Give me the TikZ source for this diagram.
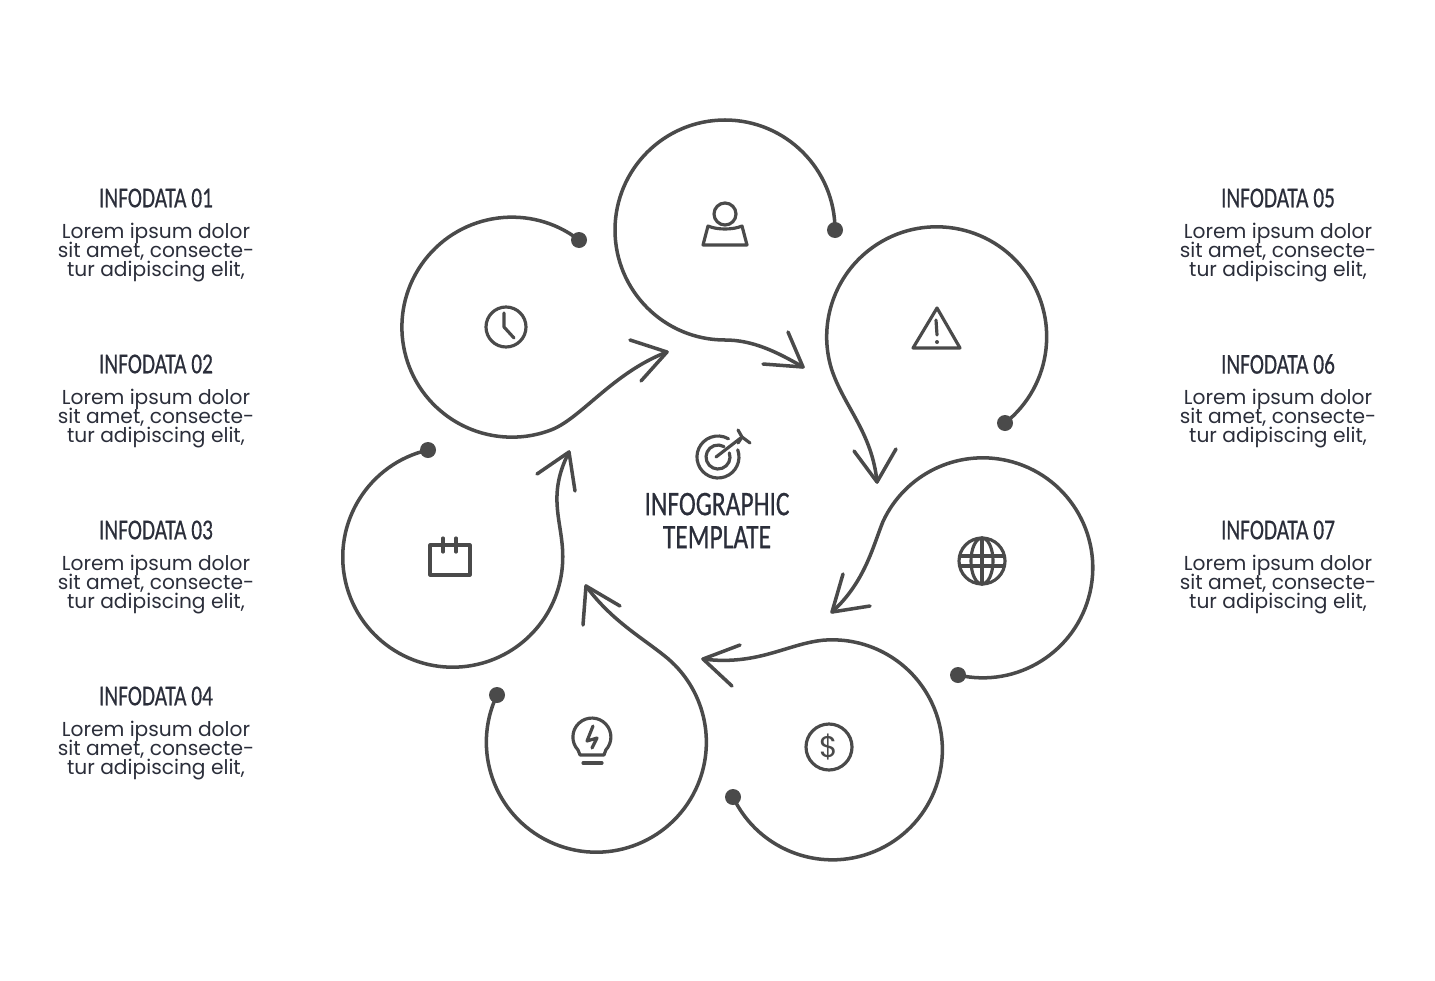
\documentclass[tikz,border=0pt]{standalone}
\usepackage{fontspec}
\newfontfamily\headfont[FakeStretch=0.74,FakeBold=0.5]{Carlito}
\newfontfamily\bodyfont{Poppins}
\definecolor{inkgray}{HTML}{4A4A4A}
\definecolor{textnavy}{HTML}{2B2E3A}
\normallineskiplimit=-100pt
\lineskiplimit=-100pt
\tikzset{
  petal/.style={draw=inkgray,line width=2pt,line cap=round,line join=round},
  glyph/.style={draw=inkgray,line width=1.8pt,line cap=round,line join=round},
  enddot/.style={fill=inkgray},
  headtext/.style={text=textnavy,font=\headfont\fontsize{16.4}{17}\selectfont,align=center,inner sep=0pt},
  titletext/.style={text=textnavy,font=\headfont\fontsize{19.6}{18.8}\selectfont,align=center,inner sep=0pt},
  bodytext/.style={text=textnavy,font=\bodyfont\fontsize{11.5}{10.8}\selectfont,align=center,inner sep=0pt},
}

\begin{document}
\begin{tikzpicture}[x=0.02cm,y=-0.02cm]
  \useasboundingbox (0,0) rectangle (1435,980);
  % petals
  \begin{scope}[shift={(725,230)}]
   \draw[petal] (110,0) arc(0:-270:110) .. controls (28,110) and (52,122) .. (78,137);
   \draw[petal] (63,102) -- (78,137) -- (38,134);
   \fill[enddot] (110,0) circle (8);
   \draw[glyph] (0,-16) circle (11);
   \draw[glyph] (-17,-4) .. controls (-8,0) and (8,0) .. (17,-4) -- (22,15) -- (-22,15) -- cycle;
  \end{scope}
  \begin{scope}[shift={(937,337)}]
   \draw[petal] (68,86) arc(51.6:-197:110) .. controls (-93,70) and (-65,95) .. (-60,145);
   \draw[petal] (-83,114) -- (-60,145) -- (-41,112);
   \fill[enddot] (68,86) circle (8);
   \draw[glyph] (0,-29) -- (-24,11) -- (23,11) -- cycle;
   \draw[glyph] (-1,-17) -- (0,-2);
   \fill[enddot] (0,5) circle (2);
  \end{scope}
  \begin{scope}[shift={(983,568)}]
   \draw[petal] (-25,107) arc(103:-155:110) .. controls (-110,-22) and (-118,14) .. (-151,44);
   \draw[petal] (-140,6) -- (-151,44) -- (-113,38);
   \fill[enddot] (-25,107) circle (8);
   \draw[glyph] (-1,-7) circle (23);
   \draw[glyph] (-1,-7) ellipse (11 and 23);
   \draw[glyph] (-1,-30) -- (-1,16);
   \draw[glyph] (-22,-12) -- (20,-12);
   \draw[glyph] (-22,-2) -- (20,-2);
  \end{scope}
  \begin{scope}[shift={(832,750)}]
   \draw[petal] (-99,47) arc(154.6:-95:110) .. controls (-45,-106) and (-75,-84) .. (-129,-91);
   \draw[petal] (-92,-105) -- (-129,-91) -- (-100,-64);
   \fill[enddot] (-99,47) circle (8);
   \draw[glyph] (-3,-3) circle (23);
   \node (dollarsign) at (-3,-3) [text=inkgray,font=\bodyfont\fontsize{17}{17}\selectfont,inner sep=0pt] {\$};
  \end{scope}
  \begin{scope}[shift={(596,742)}]
   \draw[petal] (-99,-47) arc(205.4:-52:110) .. controls (45,-105) and (15,-122) .. (-10,-156);
   \draw[petal] (24,-136) -- (-10,-156) -- (-13,-117);
   \fill[enddot] (-99,-47) circle (8);
   \draw[glyph] (-18,8) arc(137:403:19) -- (8,13) -- (-16,13) -- cycle;
   \draw[glyph] (-13,21) -- (6,21);
   \draw[glyph] (-3,-16) -- (-9,-1) -- (1,-4) -- (-4,6);
  \end{scope}
  \begin{scope}[shift={(453,557)}]
   \draw[petal] (-25,-107) arc(257:0:110) .. controls (110,-35) and (93,-60) .. (116,-105);
   \draw[petal] (84,-83) -- (116,-105) -- (122,-66);
   \fill[enddot] (-25,-107) circle (8);
   \draw[glyph] (-23,-12) rectangle (17,18);
   \draw[glyph] (-10,-19) -- (-10,-5);
   \draw[glyph] (3,-19) -- (3,-5);
  \end{scope}
  \begin{scope}[shift={(512,327)}]
   \draw[petal] (67,-87) arc(-52.4:-290:110) .. controls (68,93) and (100,46) .. (155,25);
   \draw[petal] (118,13) -- (155,25) -- (129,54);
   \fill[enddot] (67,-87) circle (8);
   \draw[glyph] (-6,0) circle (20);
   \draw[glyph] (-8,-14) -- (-8,0) -- (2,11);
  \end{scope}
  % middle
  \begin{scope}[shift={(718,457)}]
   \draw[glyph] (19.7,-7.2) arc(-20:300:21);
   \draw[glyph] (11.3,-4.1) arc(-20:300:12);
   \draw[glyph] (-2,0) -- (24,-20);
   \draw[glyph] (20,-27) -- (24,-20) -- (32,-14);
   \draw[glyph] (24,-20) -- (20,-14);
  \end{scope}
  \node (title) at (717,520.5) [titletext] {INFOGRAPHIC\\TEMPLATE};
  % left column
  \node (head1) at (156,198) [headtext] {INFODATA 01};
  \node (text1) at (156,253) [bodytext] {Lorem ipsum dolor\\sit amet, consecte-\\tur adipiscing elit,};
  \node (head2) at (156,364) [headtext] {INFODATA 02};
  \node (text2) at (156,419) [bodytext] {Lorem ipsum dolor\\sit amet, consecte-\\tur adipiscing elit,};
  \node (head3) at (156,530) [headtext] {INFODATA 03};
  \node (text3) at (156,585) [bodytext] {Lorem ipsum dolor\\sit amet, consecte-\\tur adipiscing elit,};
  \node (head4) at (156,696) [headtext] {INFODATA 04};
  \node (text4) at (156,751) [bodytext] {Lorem ipsum dolor\\sit amet, consecte-\\tur adipiscing elit,};
  % right column
  \node (head5) at (1278,198) [headtext] {INFODATA 05};
  \node (text5) at (1278,253) [bodytext] {Lorem ipsum dolor\\sit amet, consecte-\\tur adipiscing elit,};
  \node (head6) at (1278,364) [headtext] {INFODATA 06};
  \node (text6) at (1278,419) [bodytext] {Lorem ipsum dolor\\sit amet, consecte-\\tur adipiscing elit,};
  \node (head7) at (1278,530) [headtext] {INFODATA 07};
  \node (text7) at (1278,585) [bodytext] {Lorem ipsum dolor\\sit amet, consecte-\\tur adipiscing elit,};
\end{tikzpicture}
\end{document}
